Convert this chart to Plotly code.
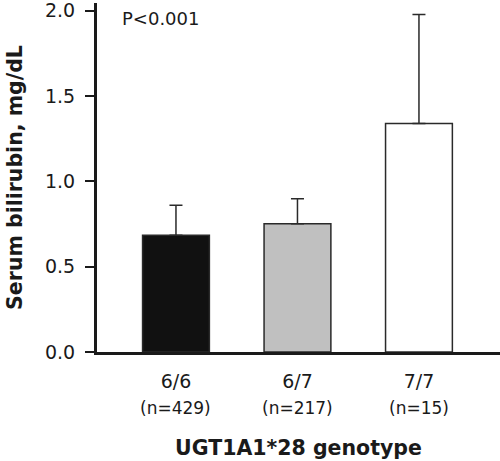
import plotly.graph_objects as go

categories = ["6/6", "6/7", "7/7"]
n_labels = ["(n=429)", "(n=217)", "(n=15)"]
means = [0.684, 0.752, 1.339]
err_up = [0.176, 0.146, 0.639]
bar_colors = ["#111111", "#c0c0c0", "#ffffff"]
y_ticks = [0.0, 0.5, 1.0, 1.5, 2.0]

FONT = "DejaVu Sans, Liberation Sans, Arial, sans-serif"
DARK = "#1a1a1a"

plot_l, plot_r, plot_t, plot_b = 97, 0, 3, 109
pw, ph = 500 - plot_l - plot_r, 461 - plot_t - plot_b

fig = go.Figure()
fig.add_trace(go.Bar(
    x=categories, y=means,
    marker=dict(color=bar_colors, line=dict(color="#2a2a2a", width=1.5)),
    width=0.55,
    error_y=dict(type="data", array=err_up, arrayminus=[0] * len(err_up),
                 symmetric=False, color="#2a2a2a", thickness=1.5, width=6.5),
))

for c, n in zip(categories, n_labels):
    fig.add_annotation(x=c, y=0, xref="x", yref="paper", text=n, showarrow=False,
                       yanchor="middle", yshift=-56,
                       font=dict(family=FONT, size=17, color=DARK))

fig.add_annotation(x=(120 - plot_l) / pw, y=(461 - plot_b - 18) / ph,
                   xref="paper", yref="paper", text="P<0.001",
                   showarrow=False, xanchor="left", yanchor="middle",
                   font=dict(family=FONT, size=18, color=DARK))

fig.update_layout(
    width=500, height=461,
    margin=dict(l=plot_l, r=plot_r, t=plot_t, b=plot_b),
    plot_bgcolor="white", paper_bgcolor="white",
    showlegend=False,
    font=dict(family=FONT, color=DARK),
    xaxis=dict(
        range=[-0.65, 2.667], showline=True, linewidth=3, linecolor=DARK,
        ticks="", showgrid=False, zeroline=False, automargin=False,
        tickfont=dict(size=19, color=DARK), ticklabelstandoff=10,
        title=dict(text="<b>UGT1A1*28 genotype</b>", font=dict(size=20.5, color=DARK), standoff=50),
    ),
    yaxis=dict(
        range=[0, 2.045], showline=True, linewidth=3, linecolor=DARK,
        ticks="outside", ticklen=9, tickwidth=2, tickcolor=DARK,
        tickvals=y_ticks, ticktext=[f"{v:.1f}" for v in y_ticks],
        showgrid=False, zeroline=False, automargin=False, ticklabeloverflow="allow",
        tickfont=dict(size=19, color=DARK), ticklabelstandoff=6,
        title=dict(text="<b>Serum bilirubin, mg/dL</b>", font=dict(size=20.5, color=DARK), standoff=17),
    ),
)

fig.write_html("out.html", config={"displayModeBar": False},
               post_script="document.body.style.margin='0';")
